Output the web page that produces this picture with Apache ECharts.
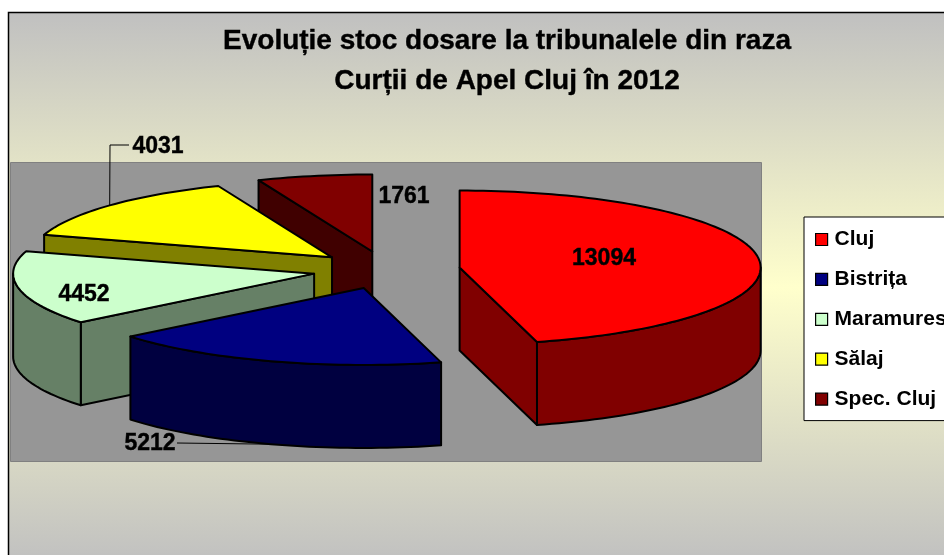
<!DOCTYPE html>
<html><head><meta charset="utf-8">
<style>html,body{margin:0;padding:0;background:#fff;overflow:hidden}#c{width:944px;height:555px}</style>
<script src="https://cdn.jsdelivr.net/npm/echarts@6/dist/echarts.min.js"></script>
</head><body><div id="c"></div>
<script>
// Data
const categories = ['Cluj', 'Bistrița', 'Maramures', 'Sălaj', 'Spec. Cluj'];
const stock = [13094, 5212, 4452, 4031, 1761];
const titleLines = ['Evoluție stoc dosare la tribunalele din raza', 'Curții de Apel Cluj în 2012'];

// Style
const topColors = ['#ff0000', '#000080', '#ccffcc', '#ffff00', '#800000'];
const wallColors = ['#800000', '#000040', '#668066', '#808000', '#400000'];

// 3D pie projection
const PIE = { cx: 386.5, cy: 270, rx: 301, ry: 77, depth: 83, explode: 0.245 };
const labelAt = [[604, 259], [150, 444], [84, 295], [158, 147], [404, 197]];
const leaderVia = [null, null, null, [[129, 145], [110, 145]], null];

const total = stock.reduce((a, b) => a + b, 0);
const rad = d => d * Math.PI / 180;
function sliceAngles(i) {
  let s = 0;
  for (let k = 0; k < i; k++) s += stock[k];
  return [s / total * 360, (s + stock[i]) / total * 360];
}
function project(c, deg, dz) {
  return [c[0] + PIE.rx * Math.sin(rad(deg)), c[1] - PIE.ry * Math.cos(rad(deg)) + (dz || 0)];
}
function arcPts(c, a, b, dz) {
  const n = Math.max(2, Math.ceil((b - a) / 1.5));
  const out = [];
  for (let j = 0; j <= n; j++) out.push(project(c, a + (b - a) * j / n, dz));
  return out;
}
const outline = { stroke: '#000', lineWidth: 2, lineJoin: 'round' };

function renderSlice(i) {
  return function (params, api) {
    const value = api.value(0);
    const [a0, a1] = sliceAngles(i);
    const mid = (a0 + a1) / 2;
    const c = [PIE.cx + PIE.explode * PIE.rx * Math.sin(rad(mid)),
               PIE.cy - PIE.explode * PIE.ry * Math.cos(rad(mid))];
    const kids = [];
    const wall = wallColors[i];
    const face = pts => ({ type: 'polygon', shape: { points: pts },
      style: Object.assign({ fill: wall }, outline) });
    const down = p => [p[0], p[1] + PIE.depth];

    // leader line, beneath the slice
    const labelP = labelAt[i];
    if (i === 1) {
      const e = project(c, mid, PIE.depth);
      kids.push({ type: 'polyline', shape: { points: [[labelP[0] + 27, labelP[1] - 1], e] },
        style: { stroke: '#000', lineWidth: 1, fill: null } });
    }
    if (leaderVia[i]) {
      kids.push({ type: 'polyline', shape: { points: leaderVia[i].concat([project(c, mid)]) },
        style: { stroke: '#000', lineWidth: 1, fill: null } });
    }
    // radial faces
    if (Math.sin(rad(a0)) < -1e-6) {
      const p = project(c, a0);
      kids.push(face([c, p, down(p), down(c)]));
    }
    if (Math.sin(rad(a1)) > 1e-6) {
      const p = project(c, a1);
      kids.push(face([c, p, down(p), down(c)]));
    }
    // curved outer wall (front half only)
    const wa = Math.max(a0, 90), wb = Math.min(a1, 270);
    if (wb > wa) {
      const top = arcPts(c, wa, wb, 0);
      const bot = arcPts(c, wa, wb, PIE.depth).reverse();
      kids.push(face(top.concat(bot)));
    }
    // top face
    kids.push({ type: 'polygon', shape: { points: [c].concat(arcPts(c, a0, a1, 0)) },
      style: Object.assign({ fill: topColors[i] }, outline) });
    // value label
    kids.push({ type: 'text', z2: 10, style: { text: String(value), x: labelP[0], y: labelP[1],
      align: 'center', verticalAlign: 'middle', fill: '#000', stroke: '#000', lineWidth: 0.4,
      font: 'bold 23px "Liberation Sans", Arial, sans-serif' } });
    return { type: 'group', children: kids };
  };
}

const chart = echarts.init(document.getElementById('c'), null, { renderer: 'canvas', width: 944, height: 555 });
chart.setOption({
  animation: false,
  backgroundColor: '#ffffff',
  title: {
    text: titleLines.join('\n'), left: 502, top: 16, textAlign: 'center',
    textStyle: { fontFamily: '"Liberation Sans", Arial, sans-serif', fontWeight: 'bold', fontSize: 28, lineHeight: 40, color: '#000', textBorderColor: '#000', textBorderWidth: 0.4 }
  },
  legend: {
    orient: 'vertical', left: 804, top: 217, width: 200,
    padding: [12, 60, 11, 11], itemGap: 18.9, itemWidth: 12, itemHeight: 12, itemStyle: { borderColor: '#000', borderWidth: 1.2 },
    icon: 'rect', backgroundColor: '#fff', borderColor: '#000', borderWidth: 1, borderRadius: 0,
    selectedMode: false,
    data: categories,
    textStyle: { fontFamily: '"Liberation Sans", Arial, sans-serif', fontWeight: 'bold', fontSize: 21, color: '#000', padding: [0, 0, 0, 2] }
  },
  graphic: [
    { type: 'rect', z: 0, shape: { x: 8.5, y: 12.5, width: 940, height: 550 },
      style: { stroke: '#000', lineWidth: 1.5,
        fill: new echarts.graphic.LinearGradient(0, 0, 0, 1, [
          { offset: 0, color: '#c0c0c0' }, { offset: 0.5, color: '#ffffcc' }, { offset: 1, color: '#c0c0c0' }]) } },
    { type: 'rect', z: 1, shape: { x: 10.5, y: 162.5, width: 751, height: 299 },
      style: { fill: '#969696', stroke: '#808080', lineWidth: 1 } }
  ],
  series: [4, 3, 2, 1, 0].map(i => ({
    type: 'custom', name: categories[i], coordinateSystem: 'none',
    z: 2 + (4 - i),
    silent: true, animation: false,
    itemStyle: { color: topColors[i] },
    renderItem: renderSlice(i),
    data: [[stock[i]]]
  }))
});
</script></body></html>
